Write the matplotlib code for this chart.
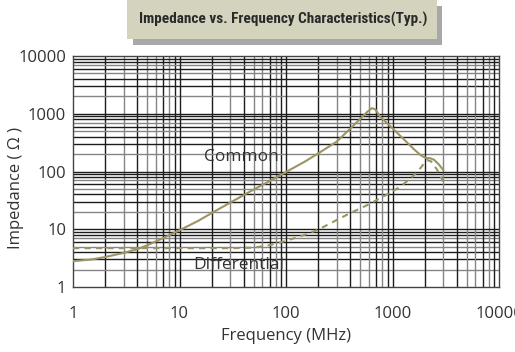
import matplotlib
matplotlib.use("Agg")
import matplotlib.pyplot as plt
from matplotlib.patches import Rectangle
from matplotlib.font_manager import FontProperties, findfont

# ---- data ----
common_freq = [1, 1.5, 2, 3, 4, 5, 7, 10, 15, 20, 30, 50, 70, 100, 150, 200, 300,
               400, 500, 580, 640, 690, 760, 1000, 1300, 1600, 1850, 2050, 2250, 2450, 2700, 3000]
common_z = [2.8, 3.0, 3.3, 3.9, 4.5, 5.3, 7.0, 9.6, 14, 19, 29, 49, 68, 98, 148, 205, 330,
            550, 820, 1080, 1250, 1190, 900, 560, 350, 240, 190, 172, 170, 160, 135, 106]

diff_freq = [1, 10, 30, 50, 70, 100, 150, 200, 300, 400, 600, 800, 1000, 1200, 1500,
             1700, 1900, 2100, 2300, 2600, 3000]
diff_z = [4.7, 4.7, 4.7, 4.8, 5.3, 6.3, 8.0, 9.8, 14.5, 19, 27, 36, 45, 56, 78,
          97, 125, 158, 150, 110, 67]

x_ticks = [1, 10, 100, 1000, 10000]
y_ticks = [1, 10, 100, 1000, 10000]
x_ticklabels = ["1", "10", "100", "1000", "10000"]
y_ticklabels = ["1", "10", "100", "1000", "10000"]

title = "Impedance vs. Frequency Characteristics(Typ.)"
xlabel = "Frequency (MHz)"
ylabel = "Impedance ( \u03a9 )"
label_common = "Common"
label_diff = "Differential"


def pick_condensed():
    cands = [('Roboto Condensed', 'normal'), ('Liberation Sans Narrow', 'normal'),
             ('Open Sans Condensed', 'normal'), ('Noto Sans', 'condensed'),
             ('DejaVu Sans', 'condensed'), ('Roboto', 'condensed'), ('Open Sans', 'condensed'),
             ('Noto Sans Display', 'condensed')]
    for fam, stretch in cands:
        fp = FontProperties(family=fam, stretch=stretch, weight='bold')
        try:
            path = findfont(fp, fallback_to_default=False)
        except Exception:
            continue
        low = path.lower()
        if 'condensed' in low or 'narrow' in low:
            return fam, stretch, True
    return 'Liberation Sans', 'normal', False


# ---- figure ----
W, H = 515, 352
fig = plt.figure(figsize=(W / 100, H / 100), dpi=100)
plt.rcParams['font.family'] = ['Open Sans', 'DejaVu Sans']

ax = fig.add_axes([73 / W, 1 - 287 / H, (499 - 73) / W, (287 - 56) / H])
ax.set_xscale('log')
ax.set_yscale('log')
ax.set_xlim(1, 10000)
ax.set_ylim(1, 10000)

# grid lines
black = '#1c1c1c'
gray = '#858585'
minor_colors = {2: black, 3: gray, 4: black, 5: gray, 6: gray, 7: black, 8: gray, 9: black}
yminor_colors = {2: gray, 3: black, 4: black, 5: gray, 6: black, 7: gray, 8: black, 9: black}
for dec in [1, 10, 100, 1000]:
    for m in range(2, 10):
        ax.axvline(dec * m, color=minor_colors[m], lw=1.0, zorder=1)
        ax.axhline(dec * m, color=yminor_colors[m], lw=1.0, zorder=1)
for v in [10, 100, 1000]:
    ax.axvline(v, color=black, lw=1.0, zorder=1)
    ax.axhline(v, color=black, lw=1.0, zorder=1)

curve_color = '#9c9462'
ax.plot(common_freq, common_z, color=curve_color, lw=1.5, zorder=3)
ax.plot(diff_freq, diff_z, color=curve_color, lw=1.5, ls=(0, (3, 2.5)), zorder=3)

ax.text(10 ** ((241 - 73) / 106.5), 10 ** ((287 - 157) / 57.75), label_common,
        fontsize=12.5, color='#333333', ha='center', va='center', zorder=4)
ax.text(10 ** ((239 - 73) / 106.5), 10 ** ((287 - 265) / 57.75), label_diff,
        fontsize=12.5, color='#333333', ha='center', va='center', zorder=4)

ax.set_xticks(x_ticks)
ax.set_xticklabels(x_ticklabels)
ax.set_yticks(y_ticks)
ax.set_yticklabels(y_ticklabels)
ax.minorticks_off()
ax.tick_params(axis='both', length=0, labelsize=12, labelcolor='#333333')
ax.tick_params(axis='x', pad=14)
ax.tick_params(axis='y', pad=5)
for s in ax.spines.values():
    s.set_color('#444444')
    s.set_linewidth(1.0)

fig.text(286 / W, 1 - 336 / H, xlabel, fontsize=12, color='#333333', ha='center', va='center')
fig.text(16 / W, 1 - 188 / H, ylabel, fontsize=12, color='#333333', ha='center', va='center',
         rotation=90)

# title box with shadow
fig.patches.append(Rectangle((133 / W, 1 - 45 / H), (442 - 133) / W, 39 / H,
                             transform=fig.transFigure, facecolor='#a8a8ab', edgecolor='none', zorder=0))
fig.patches.append(Rectangle((127 / W, 1 - 39 / H), (437 - 127) / W, 39 / H,
                             transform=fig.transFigure, facecolor='#d4d3bd', edgecolor='none', zorder=1))
fam, stretch, condensed = pick_condensed()
target_w = 288
t = fig.text(283 / W, 1 - 24 / H, title, fontsize=11, fontweight='bold', color='#2a2a2a',
             ha='center', va='baseline', family=[fam, 'DejaVu Sans'], fontstretch=stretch, zorder=5)
renderer = fig.canvas.get_renderer()
w = t.get_window_extent(renderer).width
t.set_fontsize(11 * target_w / w)

fig.savefig('out.png', dpi=100)
